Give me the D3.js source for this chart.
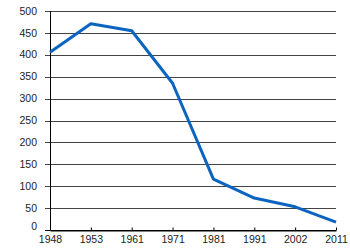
<!DOCTYPE html>
<html>
<head>
<meta charset="utf-8">
<script src="https://cdn.jsdelivr.net/npm/d3@7"></script>
<style>
  body { margin: 0; background: #fff; }
  text { font-family: "Liberation Sans", Arial, sans-serif; fill: #222; }
</style>
</head>
<body>
<div id="chart"></div>
<script>
// chart size and margins
const width = 350;
const height = 250;
const margin = {left: 50, right: 14, top: 11, bottom: 20};

// data
const years = ["1948", "1953", "1961", "1971", "1981", "1991", "2002", "2011"];
const values = [406, 471, 455, 335, 116, 73, 53, 18];
const yTicks = [0, 50, 100, 150, 200, 250, 300, 350, 400, 450, 500];

const svg = d3.select("#chart")
  .append("svg")
  .attr("width", width)
  .attr("height", height);

// scales
const xScale = d3.scalePoint()
  .domain(years)
  .range([margin.left, width - margin.right]);

const yScale = d3.scaleLinear()
  .domain([0, 500])
  .range([height - margin.bottom, margin.top]);

// gridlines
svg.append("g")
  .selectAll("line")
  .data(yTicks)
  .enter()
  .append("line")
    .attr("x1", margin.left - 5)
    .attr("x2", width - margin.right)
    .attr("y1", d => Math.round(yScale(d)) + 0.5)
    .attr("y2", d => Math.round(yScale(d)) + 0.5)
    .attr("stroke", d => d === 0 ? "#000" : "#444")
    .attr("stroke-width", 1);

// y labels
svg.append("g")
  .selectAll("text")
  .data(yTicks)
  .enter()
  .append("text")
    .attr("x", 37)
    .attr("y", d => yScale(d) - (d === 0 ? 4 : 0))
    .attr("dy", "0.35em")
    .attr("text-anchor", "end")
    .attr("font-size", "10.5px")
    .text(d => d);

// y axis line
svg.append("line")
  .attr("x1", margin.left + 0.5)
  .attr("x2", margin.left + 0.5)
  .attr("y1", yScale(500))
  .attr("y2", yScale(0) + 1)
  .attr("stroke", "#000");

// x axis: ticks point up into the plot
svg.append("g")
  .attr("transform", `translate(0,${Math.round(yScale(0)) + 0.5})`)
  .call(d3.axisBottom(xScale).tickSizeInner(-3).tickSizeOuter(0).tickPadding(5))
  .call(g => g.select(".domain").attr("stroke", "#000"))
  .call(g => g.selectAll(".tick line").attr("stroke", "#000"))
  .call(g => g.selectAll(".tick text")
    .attr("font-size", "10.5px")
    .attr("font-family", "Liberation Sans, Arial, sans-serif")
    .attr("fill", "#222"));

// the line
const line = d3.line()
  .x((d, i) => xScale(years[i]))
  .y(d => yScale(d));

svg.append("path")
  .datum(values)
  .attr("fill", "none")
  .attr("stroke", "#0a64c0")
  .attr("stroke-width", 3)
  .attr("stroke-linejoin", "round")
  .attr("d", line);
</script>
</body>
</html>
